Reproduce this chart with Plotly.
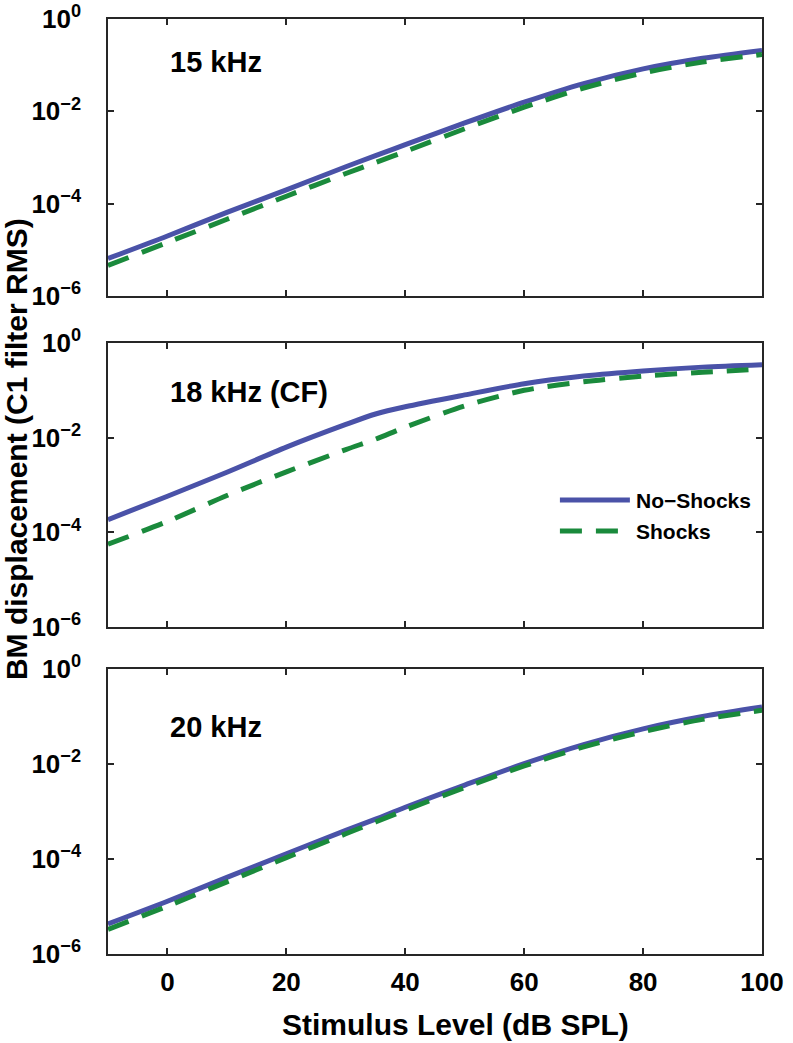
import plotly.graph_objects as go
from plotly.subplots import make_subplots

# Stimulus level (dB SPL)
levels = [-10, 0, 10, 20, 30, 35, 40, 50, 60, 70, 80, 90, 100]

# BM displacement (C1 filter RMS)
noshock_15k = [6.5e-6, 2.0e-5, 6.5e-5, 2.0e-4, 6.3e-4, 1.10e-3, 1.9e-3, 5.6e-3, 1.58e-2, 4.0e-2, 8.3e-2, 0.141, 0.209]
shock_15k   = [4.6e-6, 1.45e-5, 4.6e-5, 1.45e-4, 4.5e-4, 7.8e-4, 1.35e-3, 4.2e-3, 1.23e-2, 3.2e-2, 6.8e-2, 0.117, 0.170]

noshock_18k = [1.86e-4, 5.8e-4, 1.86e-3, 6.3e-3, 1.9e-2, 3.16e-2, 4.5e-2, 8.0e-2, 0.138, 0.20, 0.257, 0.309, 0.347]
shock_18k   = [5.6e-5, 1.7e-4, 6.0e-4, 1.9e-3, 5.6e-3, 9.3e-3, 1.66e-2, 4.7e-2, 0.100, 0.151, 0.20, 0.24, 0.282]

noshock_20k = [4.3e-6, 1.29e-5, 4.1e-5, 1.29e-4, 4.0e-4, 6.9e-4, 1.23e-3, 3.6e-3, 1.02e-2, 2.57e-2, 5.5e-2, 0.100, 0.158]
shock_20k   = [3.3e-6, 1.02e-5, 3.3e-5, 1.07e-4, 3.4e-4, 6.0e-4, 1.07e-3, 3.2e-3, 9.1e-3, 2.29e-2, 4.8e-2, 8.7e-2, 0.135]

panel_labels = ["15 kHz", "18 kHz (CF)", "20 kHz"]
series_names = ["No\u2212Shocks", "Shocks"]
x_ticks = [0, 20, 40, 60, 80, 100]
y_tickvals = [1e-6, 1e-4, 1e-2, 1e0]
y_ticktext = ["10<sup>\u22126</sup>", "10<sup>\u22124</sup>", "10<sup>\u22122</sup>", "10<sup>0</sup>"]

BLUE = "#4A52A8"
GREEN = "#1A8A3C"
AX = "#262626"
FONT = "Liberation Sans"

panels = [(noshock_15k, shock_15k), (noshock_18k, shock_18k), (noshock_20k, shock_20k)]

fig = make_subplots(rows=3, cols=1)

for i, (ns, sh) in enumerate(panels, start=1):
    fig.add_trace(go.Scatter(x=levels, y=ns, mode="lines", name=series_names[0],
                             line=dict(color=BLUE, width=5, shape="spline", smoothing=0.8),
                             showlegend=False), row=i, col=1)
    fig.add_trace(go.Scatter(x=levels, y=sh, mode="lines", name=series_names[1],
                             line=dict(color=GREEN, width=5, dash="22px,14px", shape="spline", smoothing=0.8),
                             showlegend=False), row=i, col=1)

domains = [[0.7037, 1.0], [0.3497, 0.6535], [0.0, 0.3048]]
tickfont = dict(family=FONT, size=26, color="#000", weight="bold")
for i in range(3):
    xa = "xaxis" if i == 0 else f"xaxis{i+1}"
    ya = "yaxis" if i == 0 else f"yaxis{i+1}"
    fig.layout[xa].update(
        domain=[0, 1], range=[-10, 100], tickvals=x_ticks,
        showticklabels=(i == 2), ticks="inside", ticklen=6, tickwidth=1.5, tickcolor=AX,
        showline=True, linecolor=AX, linewidth=1.5, mirror="allticks",
        showgrid=False, zeroline=False, tickfont=tickfont, ticklabelstandoff=4,
        automargin=False,
    )
    fig.layout[ya].update(
        domain=domains[i], type="log", range=[-6, 0],
        tickvals=y_tickvals, ticktext=y_ticktext,
        ticks="inside", ticklen=6, tickwidth=1.5, tickcolor=AX,
        showline=True, linecolor=AX, linewidth=1.5, mirror="allticks",
        showgrid=False, zeroline=False, tickfont=tickfont, ticklabelstandoff=20,
        automargin=False,
    )

annots = []
label_y = [0.845, 0.827, 0.797]
for i, lab in enumerate(panel_labels):
    xr = "x" if i == 0 else f"x{i+1}"
    yr = "y" if i == 0 else f"y{i+1}"
    annots.append(dict(text=lab, xref=f"{xr} domain", yref=f"{yr} domain",
                       x=0.0917, y=label_y[i], xanchor="left", yanchor="middle",
                       showarrow=False, font=dict(family=FONT, size=29, color="#000", weight="bold")))

title_font = dict(family=FONT, size=30, color="#000", weight="bold")
annots.append(dict(text="Stimulus Level (dB SPL)", xref="paper", yref="paper",
                   x=0.532, y=-0.0749, xanchor="center", yanchor="middle", showarrow=False,
                   font=title_font))
annots.append(dict(text="BM displacement (C1 filter RMS)", xref="paper", yref="paper",
                   x=-0.1407, y=0.540, xanchor="center", yanchor="middle", textangle=-90,
                   showarrow=False, font=title_font))

# legend (inside middle panel)
leg_font = dict(family=FONT, size=21, color="#000", weight="bold")
annots.append(dict(text=series_names[0], xref="x2 domain", yref="y2 domain", x=0.805, y=0.447,
                   xanchor="left", yanchor="middle", showarrow=False, font=leg_font))
annots.append(dict(text=series_names[1], xref="x2 domain", yref="y2 domain", x=0.805, y=0.338,
                   xanchor="left", yanchor="middle", showarrow=False, font=leg_font))
shapes = [
    dict(type="line", xref="x2 domain", yref="y2 domain", x0=0.691, x1=0.798, y0=0.447, y1=0.447,
         line=dict(color=BLUE, width=5)),
    dict(type="line", xref="x2 domain", yref="y2 domain", x0=0.691, x1=0.789, y0=0.338, y1=0.338,
         line=dict(color=GREEN, width=5, dash="22px,14px")),
]

fig.update_layout(
    width=793, height=1043,
    margin=dict(l=108, r=31, t=19, b=89),
    paper_bgcolor="white", plot_bgcolor="white",
    annotations=annots, shapes=shapes, showlegend=False,
)

fig.write_html("out.html", config={"displayModeBar": False},
               post_script="document.body.style.margin='0px';")
